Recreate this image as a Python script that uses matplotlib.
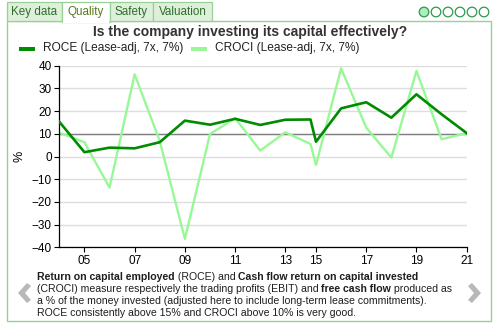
"""Quality tab: ROCE vs CROCI (lease-adjusted) line chart, recreated as a static PNG."""
import matplotlib
matplotlib.use("Agg")
import matplotlib.pyplot as plt
from matplotlib.patches import Rectangle, Circle, Polygon

plt.rcParams["font.family"] = ["Liberation Sans", "DejaVu Sans"]

W, H = 499, 325
DARK, LIGHT = "#008c00", "#98f898"
BORDER, TABBG, TABTXT = "#98d098", "#dff0da", "#2f6e2f"

# fiscal period positions (year-end moved in 2014, hence the short gap)
period_pos = [2004, 2005, 2006, 2007, 2008, 2009, 2010, 2011, 2012, 2013, 2014,
              2014.22, 2015.22, 2016.22, 2017.22, 2018.22, 2019.22, 2020.22]
roce = [15.3, 1.9, 3.9, 3.6, 6.3, 15.8, 14.0, 16.6, 13.9, 16.2, 16.3,
        6.5, 21.2, 23.9, 17.1, 27.4, 18.6, 10.3]
croci = [10.5, 6.3, -13.7, 36.2, 6.8, -36.3, 9.9, 16.9, 2.6, 10.7, 5.5,
         -3.7, 38.8, 12.7, -0.5, 37.7, 7.6, 10.3]
tick_labels = ["05", "07", "09", "11", "13", "15", "17", "19", "21"]
y_ticks = [-40, -30, -20, -10, 0, 10, 20, 30, 40]
tabs = ["Key data", "Quality", "Safety", "Valuation"]
tab_edges = [7, 62, 110, 153, 212]

fig = plt.figure(figsize=(W / 100, H / 100), dpi=100)

# pixel-space overlay for the widget chrome
bg = fig.add_axes([0, 0, 1, 1], zorder=0)
bg.set_xlim(0, W); bg.set_ylim(H, 0); bg.axis("off")
bg.add_patch(Rectangle((7, 21), 484, 300, facecolor="white", edgecolor=BORDER, lw=1.0))
for i, name in enumerate(tabs):
    x0, x1 = tab_edges[i], tab_edges[i + 1]
    sel = name == "Quality"
    bg.add_patch(Rectangle((x0, 2), x1 - x0, 19 + (1 if sel else 0),
                           facecolor="white" if sel else TABBG, edgecolor=BORDER, lw=0.9,
                           zorder=3))
    bg.text((x0 + x1) / 2, 12, name, ha="center", va="center", fontsize=8.4,
            color="#5a7a1a" if sel else TABTXT, zorder=4)
bg.add_patch(Rectangle((62.6, 20), 46.8, 2.5, facecolor="white", edgecolor="none", zorder=5))
for k in range(6):
    bg.add_patch(Circle((424 + 12 * k, 12), 4.8, facecolor="#aaeec0" if k == 0 else "white",
                        edgecolor="#2a9a4a", lw=0.9))

bg.text(250, 32, "Is the company investing its capital effectively?", ha="center",
        va="center", fontsize=10, fontweight="bold", color="#333333")

# legend
bg.add_patch(Rectangle((19, 46.5), 16, 4, facecolor=DARK, edgecolor="none"))
bg.text(43, 48.5, "ROCE (Lease-adj, 7x, 7%)", va="center", fontsize=8.6, color="#222222")
bg.add_patch(Rectangle((191, 46.5), 16, 4, facecolor=LIGHT, edgecolor="none"))
bg.text(215, 48.5, "CROCI (Lease-adj, 7x, 7%)", va="center", fontsize=8.6, color="#222222")

# nav chevrons
bg.add_patch(Polygon([(27, 283), (18, 293), (27, 303), (31, 300), (25, 293), (31, 286)],
                     facecolor="#b8b8b8", edgecolor="none"))
bg.add_patch(Polygon([(472, 283), (481, 293), (472, 303), (468, 300), (474, 293), (468, 286)],
                     facecolor="#b8b8b8", edgecolor="none"))

# chart
ax = fig.add_axes([59.3 / W, 1 - 247.3 / H, (466.7 - 59.3) / W, (247.3 - 65.7) / H], zorder=2)
ax.patch.set_alpha(0)
for y in y_ticks:
    ax.axhline(y, color="#dddddd", lw=1.0, zorder=0)
ax.axhline(10, color="#808080", lw=1.0, zorder=1)
ax.plot(period_pos, croci, color=LIGHT, lw=1.7, zorder=2)
ax.plot(period_pos, roce, color=DARK, lw=1.9, zorder=3)
ax.set_xlim(period_pos[0], period_pos[-1])
ax.set_ylim(-40, 40)
ax.set_yticks(y_ticks)
ax.set_xticks(period_pos[1::2])
ax.set_xticklabels(tick_labels)
ax.tick_params(labelsize=8.5, length=3.5, width=0.8, colors="black", pad=2)
for s in ("top", "right"):
    ax.spines[s].set_visible(False)
ax.spines["left"].set_linewidth(0.9)
ax.spines["bottom"].set_linewidth(0.9)
ax.set_ylabel("%", fontsize=9, labelpad=4)

# description with bold runs
desc = [
    [("Return on capital employed", True), (" (ROCE) and ", False),
     ("Cash flow return on capital invested", True)],
    [("(CROCI) measure respectively the trading profits (EBIT) and ", False),
     ("free cash flow", True), (" produced as", False)],
    [("a % of the money invested (adjusted here to include long-term lease commitments).", False)],
    [("ROCE consistently above 15% and CROCI above 10% is very good.", False)],
]
r = fig.canvas.get_renderer()
for row, parts in enumerate(desc):
    x = 37.0
    y = 276.5 + 12.2 * row
    for txt, bold in parts:
        t = bg.text(x, y, txt, va="center", fontsize=7.6, color="#1e1e1e",
                    fontweight="bold" if bold else "normal")
        x += t.get_window_extent(renderer=r).width

fig.savefig("out.png", dpi=100)
